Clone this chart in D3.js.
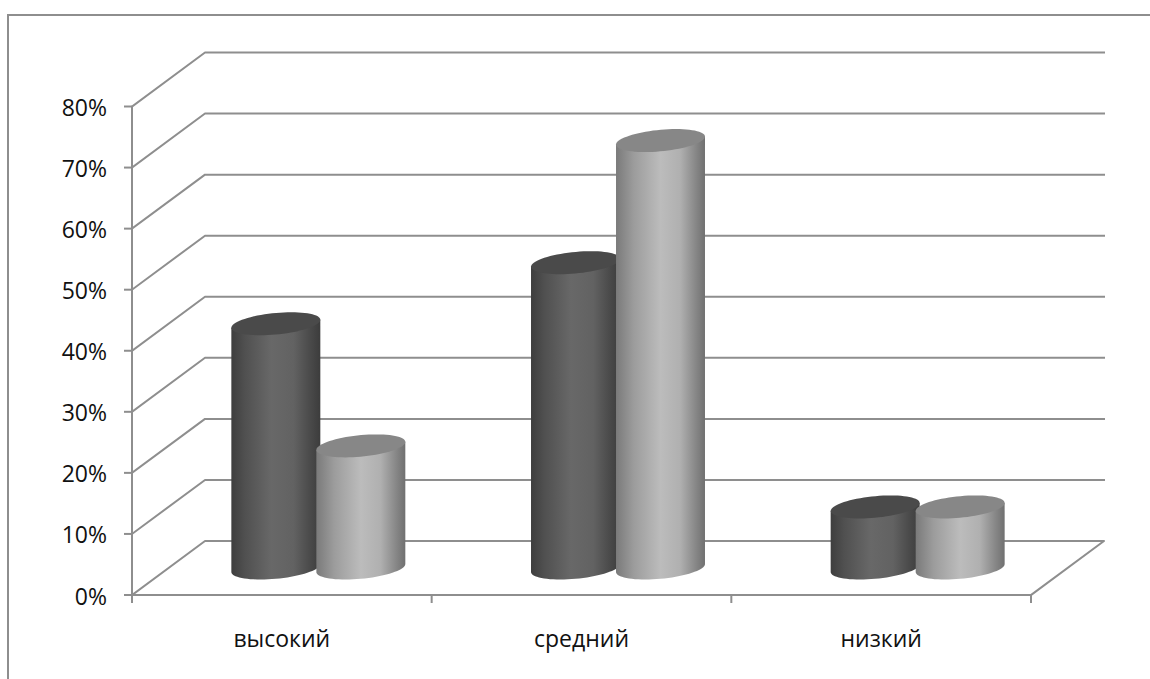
<!DOCTYPE html>
<html lang="ru">
<head>
<meta charset="utf-8">
<style>
  html, body { margin: 0; padding: 0; background: #fff; }
  svg { display: block; }
  text { font-family: "Open Sans", "Noto Sans", sans-serif; fill: #111; }
</style>
<script src="https://cdn.jsdelivr.net/npm/d3@7/dist/d3.min.js"></script>
</head>
<body>
<svg id="chart" width="1150" height="679"></svg>
<script>
// Уровни и доли по двум сериям
const categories = ["высокий", "средний", "низкий"];
const seriesA = [0.40, 0.50, 0.10];
const seriesB = [0.20, 0.70, 0.10];
const yTicks = [0, 0.1, 0.2, 0.3, 0.4, 0.5, 0.6, 0.7, 0.8];

const W = 1150, H = 679;
const plot = { left: 132, right: 1031, top: 106.5, bottom: 595 };
const depth = { dx: 73, dy: -54 };
const axisColor = "#8e8e8e";

const svg = d3.select("#chart");

const x = d3.scaleBand().domain(categories).range([plot.left, plot.right]);
const y = d3.scaleLinear().domain([0, 0.8]).range([plot.bottom, plot.top]);
const fmt = d3.format(".0%");

const defs = svg.append("defs");
function shade(id, stops) {
  const g = defs.append("linearGradient").attr("id", id)
    .attr("x1", 0).attr("x2", 1).attr("y1", 0).attr("y2", 0);
  stops.forEach(([o, c]) => g.append("stop").attr("offset", o).attr("stop-color", c));
}
shade("bodyDark", [[0, "#3e3e3e"], [0.15, "#505050"], [0.45, "#686868"], [0.7, "#626262"], [0.9, "#484848"], [1, "#3c3c3c"]]);
shade("bodyLight", [[0, "#7a7a7a"], [0.2, "#9c9c9c"], [0.5, "#bcbcbc"], [0.72, "#b0b0b0"], [0.9, "#868686"], [1, "#707070"]]);

// Рамка области диаграммы
svg.append("path")
  .attr("d", `M8,${H}V15H${W}`)
  .attr("fill", "none").attr("stroke", axisColor).attr("stroke-width", 2);

// Сетка: линия на боковой стенке и линия на задней стенке
const grid = svg.append("g").attr("fill", "none").attr("stroke", axisColor)
  .attr("stroke-width", 2).attr("stroke-linejoin", "round").attr("stroke-linecap", "square");
yTicks.forEach(t => {
  const py = y(t);
  grid.append("path").attr("d",
    `M${plot.left},${py}l${depth.dx},${depth.dy}H${plot.right + depth.dx}` +
    (t === 0 ? `L${plot.right},${py}` : ""));
});

// Ось значений и ось категорий с засечками
const yAxis = svg.append("g").attr("stroke", axisColor).attr("stroke-width", 2);
yAxis.append("line").attr("x1", plot.left).attr("x2", plot.left)
  .attr("y1", y(0.8)).attr("y2", y(0));
yAxis.selectAll("line.tick").data(yTicks).join("line").attr("class", "tick")
  .attr("x1", plot.left - 8).attr("x2", plot.left).attr("y1", d => y(d)).attr("y2", d => y(d));

const xAxis = svg.append("g").attr("stroke", axisColor).attr("stroke-width", 2);
xAxis.append("line").attr("x1", plot.left).attr("x2", plot.right)
  .attr("y1", plot.bottom).attr("y2", plot.bottom);
const edges = categories.map(c => x(c)).concat(plot.right);
xAxis.selectAll("line.tick").data(edges).join("line").attr("class", "tick")
  .attr("x1", d => d).attr("x2", d => d).attr("y1", plot.bottom).attr("y2", plot.bottom + 8);

// Подписи осей
svg.append("g").selectAll("text").data(yTicks).join("text")
  .attr("x", 107).attr("y", d => y(d) + 9.5)
  .attr("text-anchor", "end").attr("font-size", 23).text(fmt);
svg.append("g").selectAll("text").data(categories).join("text")
  .attr("x", c => x(c) + x.bandwidth() / 2).attr("y", 647)
  .attr("text-anchor", "middle").attr("font-size", 23).text(c => c);

// Цилиндр: основание и верх — наклонные эллипсы в косоугольной проекции
const ellipse = { rx: 41.7, bx: 15.5, by: -11.5 };
const rightAngle = Math.atan2(ellipse.bx, ellipse.rx);
const pt = (cx, cy, t) => [
  cx + ellipse.rx * Math.cos(t) + ellipse.bx * Math.sin(t),
  cy + ellipse.by * Math.sin(t)
];
const curve = d3.line();
const angles = d3.range(0, 73).map(i => i * Math.PI * 2 / 72);

function cylinder(g, cx, value, bodyFill, topFill) {
  const base = y(0) + depth.dy / 2;
  const top = base - (y(0) - y(value));
  // нижняя половина обхода: от правого края к левому через низ основания
  const lower = d3.range(0, 37).map(i => rightAngle - i * Math.PI / 36);
  const outline = [pt(cx, top, rightAngle)]
    .concat(lower.map(t => pt(cx, base, t)))
    .concat([pt(cx, top, rightAngle + Math.PI)]);
  g.append("path").attr("d", curve(outline) + "Z").attr("fill", bodyFill);
  g.append("path").attr("d", curve(angles.map(t => pt(cx, top, t))) + "Z").attr("fill", topFill);
}

const barGap = 42.5;
const bars = svg.append("g");
categories.forEach((c, i) => {
  const mid = x(c) + x.bandwidth() / 2 + depth.dx / 2;
  cylinder(bars.append("g"), mid - barGap, seriesA[i], "url(#bodyDark)", "#4a4a4a");
  cylinder(bars.append("g"), mid + barGap, seriesB[i], "url(#bodyLight)", "#878787");
});
</script>
</body>
</html>
